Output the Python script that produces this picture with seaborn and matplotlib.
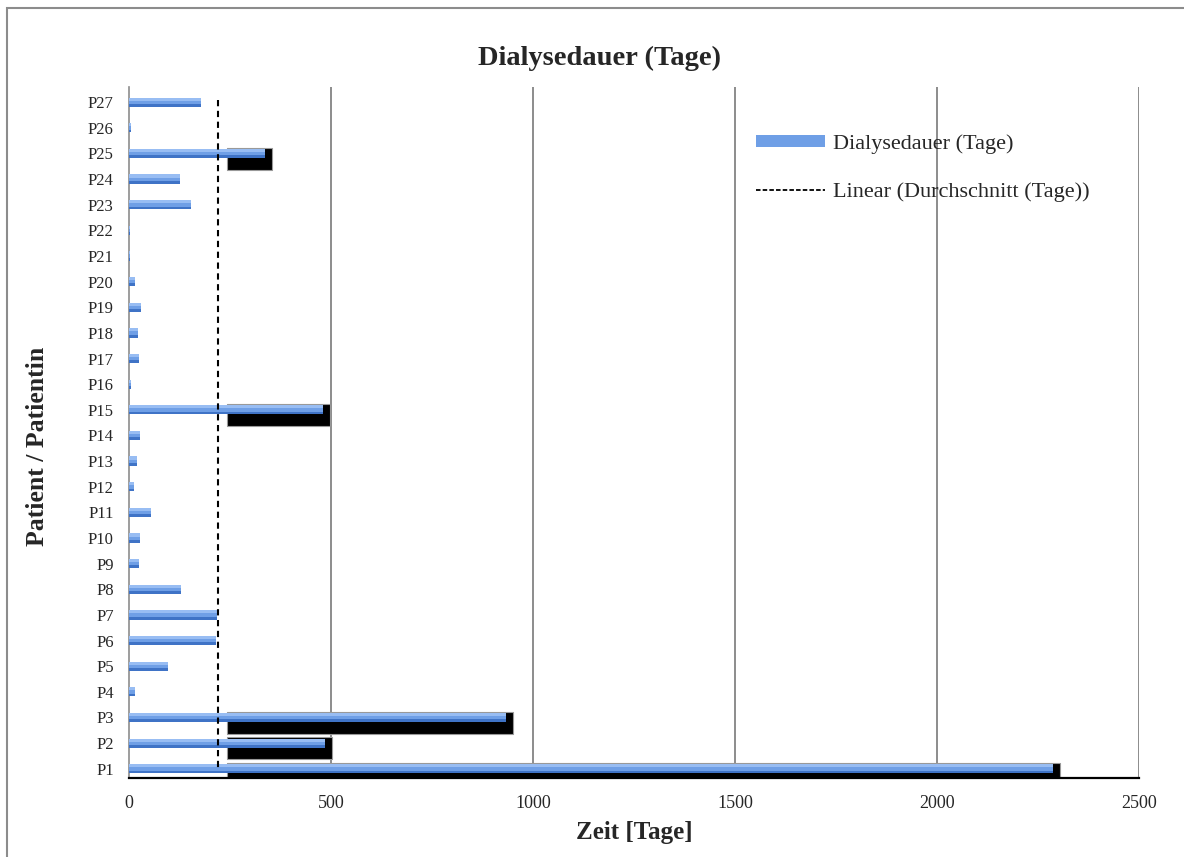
import numpy as np
import pandas as pd
import seaborn as sns
import matplotlib
matplotlib.use("Agg")
import matplotlib.pyplot as plt
from matplotlib.patches import Rectangle, Patch
from matplotlib.lines import Line2D

# ---- data ----
patients = ["P1", "P2", "P3", "P4", "P5", "P6", "P7", "P8", "P9", "P10",
            "P11", "P12", "P13", "P14", "P15", "P16", "P17", "P18", "P19", "P20",
            "P21", "P22", "P23", "P24", "P25", "P26", "P27"]
dauer = [2287, 485, 933, 14, 96, 215, 219, 128, 25, 27,
         54, 12, 20, 27, 480, 6, 25, 22, 30, 14,
         3, 3, 153, 126, 337, 4, 177]
x_ticks = [0, 500, 1000, 1500, 2000, 2500]

title = "Dialysedauer (Tage)"
series_label = "Dialysedauer (Tage)"
trend_label = "Linear (Durchschnitt (Tage))"
x_label = "Zeit [Tage]"
y_label = "Patient / Patientin"

sns.set_theme(style="white")
plt.rcParams["font.family"] = ["Liberation Serif", "DejaVu Serif"]

df = pd.DataFrame({"Patient": patients, "Tage": dauer})
order = patients[::-1]  # P27 at top
pos = {p: i for i, p in enumerate(order)}
ypos = np.array([pos[p] for p in patients])
vals = np.array(dauer, dtype=float)

fig = plt.figure(figsize=(11.84, 8.57), dpi=100)
ax = fig.add_axes([129/1184, 1-778/857, (1139-129)/1184, (778-87)/857])

BAR_H = 0.36
mid_c = "#6f9fe6"
light_c = "#98bdf3"
dark_c = "#3f73c6"

# shadow artefacts behind the long bars
shadow_start = 242
long_mask = vals > shadow_start
ax.barh(ypos[long_mask] + 0.2, vals[long_mask] + 17 - shadow_start,
        left=shadow_start, height=0.86, color="black",
        edgecolor="#999999", linewidth=0.8, zorder=2)

sns.barplot(data=df, x="Tage", y="Patient", order=order, orient="h",
            color=mid_c, width=BAR_H, saturation=1, ax=ax, zorder=3,
            linewidth=0, edgecolor="none")
# gradient-ish bands
ax.barh(ypos - BAR_H/2 + BAR_H*0.17, vals, height=BAR_H*0.34,
        color=light_c, linewidth=0, edgecolor="none", zorder=4)
ax.barh(ypos + BAR_H/2 - BAR_H*0.15, vals, height=BAR_H*0.30,
        color=dark_c, linewidth=0, edgecolor="none", zorder=4)

# average line
mean_val = float(np.mean(vals))
ax.plot([mean_val, mean_val], [min(ypos) - 0.1, max(ypos) + 0.1],
        color="black", linestyle=(0, (3, 2.2)), linewidth=1.5, zorder=5)

ax.set_xlim(0, 2500)
ax.set_ylim(26.36, -0.59)
ax.set_xticks(x_ticks)
ax.set_xticklabels([str(t) for t in x_ticks])
ax.set_xlabel("")
ax.set_ylabel("")
ax.grid(False)
for t in x_ticks[1:]:
    ax.axvline(t, color="#8c8c8c", linewidth=1.4, zorder=1)

ax.tick_params(axis="x", length=0, pad=12, labelsize=13)
ax.tick_params(axis="y", length=0, pad=11, labelsize=12)
for s in ["top", "right"]:
    ax.spines[s].set_visible(False)
ax.spines["left"].set_color("#8c8c8c")
ax.spines["left"].set_linewidth(1.2)
ax.spines["bottom"].set_color("black")
ax.spines["bottom"].set_linewidth(1.6)
ax.spines["left"].set_zorder(2.5)
ax.spines["bottom"].set_zorder(6)

# legend
handles = [Patch(facecolor=mid_c, edgecolor="none", label=series_label),
           Line2D([0], [0], color="black", linestyle=(0, (2.5, 1.2)), linewidth=1.3,
                  label=trend_label)]
fig.legend(handles=handles, loc="upper left",
           bbox_to_anchor=(756/1184, 1-134/857), bbox_transform=fig.transFigure,
           frameon=False, fontsize=16, borderpad=0, borderaxespad=0,
           labelspacing=1.3, handlelength=3.1, handletextpad=0.36,
           handleheight=0.5)

fig.text(599/1184, 1-58/857, title, ha="center", va="center",
         fontsize=20.5, fontweight="bold")
fig.text(634/1184, 1-832/857, x_label, ha="center", va="center",
         fontsize=18, fontweight="bold")
fig.text(38/1184, 1-446/857, y_label, ha="center", va="center",
         rotation=90, fontsize=18.5, fontweight="bold")

# outer chart border
fig.patches.append(Rectangle((7/1184, -0.05), 1.2, 1-8/857 + 0.05,
                             transform=fig.transFigure, fill=False,
                             edgecolor="#8c8c8c", linewidth=1.5))

fig.savefig("out.png", dpi=100)
